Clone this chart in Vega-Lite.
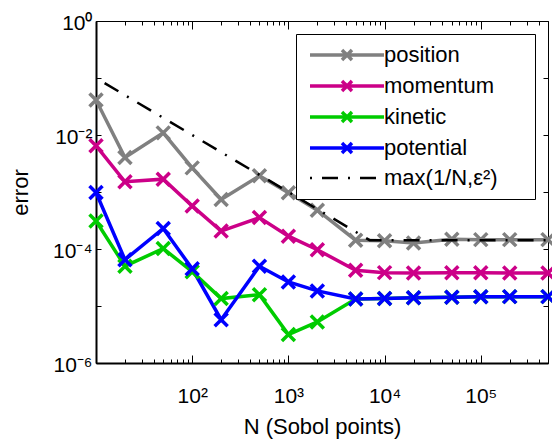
{
  "$schema": "https://vega.github.io/schema/vega-lite/v6.json",
  "width": 452,
  "height": 342,
  "autosize": {"type": "none"},
  "padding": {"left": 96, "top": 21, "right": 4, "bottom": 77},
  "background": "white",
  "config": {
    "font": "Liberation Sans",
    "view": {"stroke": "black", "strokeWidth": 1},
    "axis": {"grid": false, "labelFont": "Liberation Sans", "titleFont": "Liberation Sans", "labelColor": "black", "titleColor": "black", "tickColor": "black", "domainColor": "black", "titleFontWeight": "normal"}
  },
  "data": {
    "values": [
      {"series": "position", "N": 10, "error": 0.041},
      {"series": "position", "N": 20, "error": 0.00404},
      {"series": "position", "N": 50, "error": 0.0109},
      {"series": "position", "N": 100, "error": 0.00265},
      {"series": "position", "N": 200, "error": 0.00074},
      {"series": "position", "N": 500, "error": 0.00192},
      {"series": "position", "N": 1000, "error": 0.00097},
      {"series": "position", "N": 2000, "error": 0.00048},
      {"series": "position", "N": 5000, "error": 0.000143},
      {"series": "position", "N": 10000, "error": 0.000139},
      {"series": "position", "N": 20000, "error": 0.000128},
      {"series": "position", "N": 50000, "error": 0.000148},
      {"series": "position", "N": 100000, "error": 0.000146},
      {"series": "position", "N": 200000, "error": 0.000146},
      {"series": "position", "N": 500000, "error": 0.000146},
      {"series": "momentum", "N": 10, "error": 0.0065},
      {"series": "momentum", "N": 20, "error": 0.00151},
      {"series": "momentum", "N": 50, "error": 0.00168},
      {"series": "momentum", "N": 100, "error": 0.00057},
      {"series": "momentum", "N": 200, "error": 0.000206},
      {"series": "momentum", "N": 500, "error": 0.000356},
      {"series": "momentum", "N": 1000, "error": 0.000168},
      {"series": "momentum", "N": 2000, "error": 0.000097},
      {"series": "momentum", "N": 5000, "error": 0.0000425},
      {"series": "momentum", "N": 10000, "error": 0.0000385},
      {"series": "momentum", "N": 20000, "error": 0.000038},
      {"series": "momentum", "N": 50000, "error": 0.0000382},
      {"series": "momentum", "N": 100000, "error": 0.0000382},
      {"series": "momentum", "N": 200000, "error": 0.000038},
      {"series": "momentum", "N": 500000, "error": 0.000038},
      {"series": "kinetic", "N": 10, "error": 0.00031},
      {"series": "kinetic", "N": 20, "error": 0.00005},
      {"series": "kinetic", "N": 50, "error": 0.000102},
      {"series": "kinetic", "N": 100, "error": 0.00004},
      {"series": "kinetic", "N": 200, "error": 0.0000135},
      {"series": "kinetic", "N": 500, "error": 0.0000158},
      {"series": "kinetic", "N": 1000, "error": 0.00000315},
      {"series": "kinetic", "N": 2000, "error": 0.00000525},
      {"series": "kinetic", "N": 5000, "error": 0.0000133},
      {"series": "kinetic", "N": 10000, "error": 0.0000136},
      {"series": "kinetic", "N": 20000, "error": 0.000014},
      {"series": "kinetic", "N": 50000, "error": 0.0000143},
      {"series": "kinetic", "N": 100000, "error": 0.0000145},
      {"series": "kinetic", "N": 200000, "error": 0.0000146},
      {"series": "kinetic", "N": 500000, "error": 0.0000146},
      {"series": "potential", "N": 10, "error": 0.00098},
      {"series": "potential", "N": 20, "error": 0.000065},
      {"series": "potential", "N": 50, "error": 0.000229},
      {"series": "potential", "N": 100, "error": 0.000045},
      {"series": "potential", "N": 200, "error": 0.00000575},
      {"series": "potential", "N": 500, "error": 0.00005},
      {"series": "potential", "N": 1000, "error": 0.0000264},
      {"series": "potential", "N": 2000, "error": 0.0000184},
      {"series": "potential", "N": 5000, "error": 0.0000133},
      {"series": "potential", "N": 10000, "error": 0.0000136},
      {"series": "potential", "N": 20000, "error": 0.000014},
      {"series": "potential", "N": 50000, "error": 0.0000143},
      {"series": "potential", "N": 100000, "error": 0.0000145},
      {"series": "potential", "N": 200000, "error": 0.0000146},
      {"series": "potential", "N": 500000, "error": 0.0000146},
      {"series": "max(1/N,ε²)", "N": 10, "error": 0.1},
      {"series": "max(1/N,ε²)", "N": 7000, "error": 0.000143},
      {"series": "max(1/N,ε²)", "N": 500000, "error": 0.000143}
    ]
  },
  "resolve": {"axis": {"x": "independent", "y": "independent"}},
  "layer": [
    {
      "transform": [{"filter": "datum.series !== 'max(1/N,ε²)'"}],
      "mark": {"type": "line", "strokeWidth": 3.5},
      "encoding": {
        "x": {
          "field": "N", "type": "quantitative",
          "scale": {"type": "log", "domain": [10, 500000], "nice": false},
          "axis": {
            "orient": "bottom", "title": "N (Sobol points)", "titleFontSize": 22, "titlePadding": 6,
            "values": [10,20,30,40,50,60,70,80,90,100,200,300,400,500,600,700,800,900,1000,2000,3000,4000,5000,6000,7000,8000,9000,10000,20000,30000,40000,50000,60000,70000,80000,90000,100000,200000,300000,400000,500000],
            "labelExpr": "round(log(datum.value)/LN10) == 2 && abs(log(datum.value)/LN10 - 2) < 0.001 ? '10²' : round(log(datum.value)/LN10) == 3 && abs(log(datum.value)/LN10 - 3) < 0.001 ? '10³' : round(log(datum.value)/LN10) == 4 && abs(log(datum.value)/LN10 - 4) < 0.001 ? '10⁴' : round(log(datum.value)/LN10) == 5 && abs(log(datum.value)/LN10 - 5) < 0.001 ? '10⁵' : ''",
            "labelFontSize": 21, "labelPadding": 30, "labelOverlap": false, "labelFlush": false,
            "domainWidth": 2,
            "tickSize": {"condition": {"test": "abs(log(datum.value)/LN10 - round(log(datum.value)/LN10)) < 0.001", "value": -8}, "value": -4},
            "tickWidth": 1
          }
        },
        "y": {
          "field": "error", "type": "quantitative",
          "scale": {"type": "log", "domain": [0.000001, 1], "nice": false},
          "axis": {
            "orient": "left", "title": "error", "titleFontSize": 22, "titlePadding": 20,
            "values": [0.000001, 0.00001, 0.0001, 0.001, 0.01, 0.1, 1],
            "labelExpr": "round(log(datum.value)/LN10) == 0 ? '10⁰' : round(log(datum.value)/LN10) == -2 ? '10⁻²' : round(log(datum.value)/LN10) == -4 ? '10⁻⁴' : round(log(datum.value)/LN10) == -6 ? '10⁻⁶' : ''",
            "labelFontSize": 21, "labelPadding": 9, "labelOffset": 2, "labelOverlap": false, "labelFlush": false,
            "domainWidth": 2, "tickSize": -5, "tickWidth": 1
          }
        },
        "color": {
          "field": "series", "type": "nominal",
          "scale": {"domain": ["position", "momentum", "kinetic", "potential", "max(1/N,ε²)"], "range": ["#808080", "#cc0088", "#00cc00", "#0000ff", "#000000"]},
          "legend": {
            "title": null, "orient": "top-right", "offset": 13,
            "labelFontSize": 22, "labelFont": "Liberation Sans", "labelColor": "black", "labelLimit": 300,
            "symbolSize": 100, "symbolStrokeWidth": 3.5, "symbolFillColor": "transparent",
            "symbolType": "M-7.4,0H7.4M-1,-1L1,1M-1,1L1,-1M34.1,0L34.1,0",
            "symbolOffset": 30, "labelOffset": 26,
            "strokeColor": "black", "fillColor": "white", "padding": 10, "rowPadding": 7,
            "encode": {
              "symbols": {"update": {
                "shape": {"signal": "datum.value === 'max(1/N,ε²)' ? 'M-7.4,0H7.4M34.1,0L34.1,0' : 'M-7.4,0H7.4M-1,-1L1,1M-1,1L1,-1M34.1,0L34.1,0'"},
                "strokeDash": {"signal": "datum.value === 'max(1/N,ε²)' ? [2,10,16,10] : [1,0]"},
                "strokeWidth": {"signal": "datum.value === 'max(1/N,ε²)' ? 2.5 : 3.5"}
              }}
            }
          }
        }
      }
    },
    {
      "transform": [{"filter": "datum.series !== 'max(1/N,ε²)'"}],
      "mark": {"type": "point", "shape": "M-1,-1L1,1M-1,1L1,-1", "size": 169, "strokeWidth": 3.5, "filled": false, "opacity": 1},
      "encoding": {
        "x": {
          "field": "N", "type": "quantitative",
          "axis": {
            "orient": "top", "title": null, "labels": false, "domain": false,
            "values": [10,20,30,40,50,60,70,80,90,100,200,300,400,500,600,700,800,900,1000,2000,3000,4000,5000,6000,7000,8000,9000,10000,20000,30000,40000,50000,60000,70000,80000,90000,100000,200000,300000,400000,500000],
            "tickSize": {"condition": {"test": "abs(log(datum.value)/LN10 - round(log(datum.value)/LN10)) < 0.001", "value": -8}, "value": -4},
            "tickWidth": 1
          }
        },
        "y": {
          "field": "error", "type": "quantitative",
          "axis": {
            "orient": "right", "title": null, "labels": false, "domain": false,
            "values": [0.000001, 0.00001, 0.0001, 0.001, 0.01, 0.1, 1],
            "tickSize": -5, "tickWidth": 1
          }
        },
        "color": {"field": "series", "type": "nominal"}
      }
    },
    {
      "transform": [{"filter": "datum.series === 'max(1/N,ε²)'"}],
      "mark": {"type": "line", "strokeWidth": 2.5, "strokeDash": [16, 10, 2, 10], "strokeDashOffset": 28},
      "encoding": {
        "x": {"field": "N", "type": "quantitative", "axis": null},
        "y": {"field": "error", "type": "quantitative", "axis": null},
        "color": {"field": "series", "type": "nominal"}
      }
    }
  ]
}
